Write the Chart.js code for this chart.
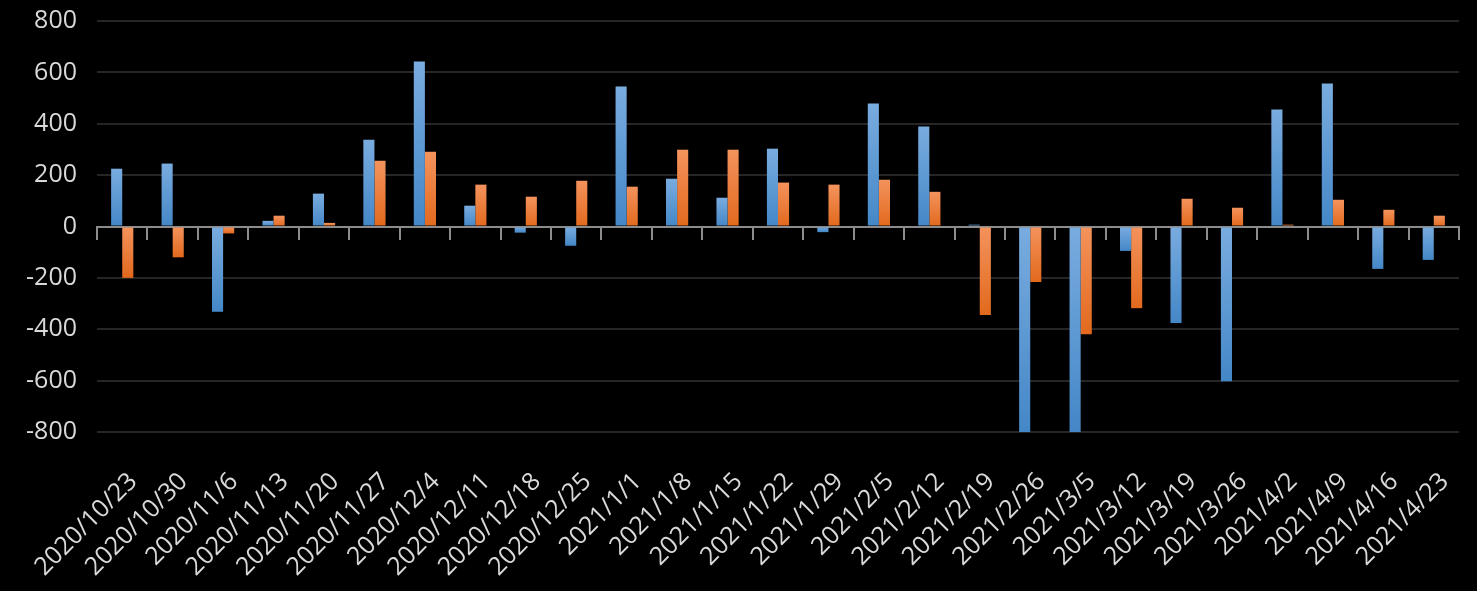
<!DOCTYPE html>
<html lang="en">
<head>
    <meta charset="UTF-8">
    <title>Weekly chart</title>
    <script src="https://cdn.jsdelivr.net/npm/chart.js"></script>
    <style>
        body { margin: 0; background: #000; }
        canvas { display: block; }
    </style>
</head>
<body>
<canvas id="chart" width="1477" height="591"></canvas>
<script>
    const labels = [
        '2020/10/23', '2020/10/30', '2020/11/6', '2020/11/13', '2020/11/20', '2020/11/27', '2020/12/4',
        '2020/12/11', '2020/12/18', '2020/12/25', '2021/1/1', '2021/1/8', '2021/1/15', '2021/1/22',
        '2021/1/29', '2021/2/5', '2021/2/12', '2021/2/19', '2021/2/26', '2021/3/5', '2021/3/12',
        '2021/3/19', '2021/3/26', '2021/4/2', '2021/4/9', '2021/4/16', '2021/4/23'
    ];
    const blueValues = [
        225, 245, -332, 22, 128, 338, 642,
        81, -24, -75, 545, 186, 112, 303,
        -22, 479, 389, 7, -800, -800, -95,
        -376, -602, 455, 557, -165, -130
    ];
    const orangeValues = [
        -200, -120, -27, 42, 14, 256, 291,
        163, 116, 178, 155, 299, 299, 171,
        163, 182, 135, -345, -216, -419, -318,
        108, 73, 7, 104, 65, 42
    ];
    const yTicks = [-800, -600, -400, -200, 0, 200, 400, 600, 800];

    const labelFont = { family: "'Open Sans', 'Liberation Sans', sans-serif", size: 25 };
    const textColor = '#d9d9d9';

    // each bar gets its own vertical gradient, light at the top, dark at the bottom
    const barFill = (light, dark) => (ctx) => {
        const chart = ctx.chart;
        if (!chart.chartArea || ctx.type !== 'data') return dark;
        const y = chart.scales.y;
        const p0 = y.getPixelForValue(0);
        const p1 = y.getPixelForValue(ctx.raw);
        const top = Math.max(Math.min(p0, p1), chart.chartArea.top);
        const bottom = Math.min(Math.max(p0, p1), chart.chartArea.bottom);
        if (bottom - top < 1) return dark;
        const g = chart.ctx.createLinearGradient(0, top, 0, bottom);
        g.addColorStop(0, light);
        g.addColorStop(1, dark);
        return g;
    };

    // keep the plot box where it is in the original, whatever the label sizes
    const noPadding = (scale) => {
        scale.paddingTop = 0;
        scale.paddingBottom = 0;
        scale.paddingLeft = 0;
        scale.paddingRight = 0;
    };

    new Chart(document.getElementById('chart'), {
        type: 'bar',
        data: {
            labels: labels,
            datasets: [
                {
                    label: 'series 1',
                    data: blueValues,
                    backgroundColor: barFill('#79acdf', '#4487c7'),
                    barPercentage: 1,
                    categoryPercentage: 0.44
                },
                {
                    label: 'series 2',
                    data: orangeValues,
                    backgroundColor: barFill('#f4935d', '#e2691d'),
                    barPercentage: 1,
                    categoryPercentage: 0.44
                }
            ]
        },
        options: {
            responsive: false,
            animation: false,
            layout: { padding: { top: 21, right: 18, bottom: 0, left: 0 } },
            plugins: {
                legend: { display: false },
                tooltip: { enabled: false }
            },
            scales: {
                x: {
                    position: { y: 0 },
                    offset: true,
                    ticks: { display: false },
                    grid: {
                        offset: true,
                        drawOnChartArea: false,
                        drawTicks: true,
                        tickLength: 12,
                        color: '#8c8c8c',
                        lineWidth: 2
                    },
                    border: { display: true, color: '#8c8c8c', width: 2 },
                    afterFit: noPadding
                },
                x2: {
                    type: 'category',
                    position: 'bottom',
                    offset: true,
                    grid: { display: false, drawTicks: false },
                    border: { display: false },
                    ticks: {
                        color: textColor,
                        font: labelFont,
                        minRotation: 45,
                        maxRotation: 45,
                        autoSkip: false,
                        padding: 35,
                        labelOffset: 11
                    },
                    afterFit: (scale) => {
                        noPadding(scale);
                        scale.height = 159;
                    }
                },
                y: {
                    min: -800,
                    max: 800,
                    afterBuildTicks: (scale) => { scale.ticks = yTicks.map(v => ({ value: v })); },
                    afterFit: (scale) => {
                        noPadding(scale);
                        scale.width = 97;
                    },
                    ticks: {
                        color: textColor,
                        font: labelFont,
                        padding: 20
                    },
                    grid: {
                        drawTicks: false,
                        color: (c) => c.tick && c.tick.value === 0 ? '#8c8c8c' : '#262626',
                        lineWidth: 2
                    },
                    border: { display: false }
                }
            }
        }
    });
</script>
</body>
</html>
